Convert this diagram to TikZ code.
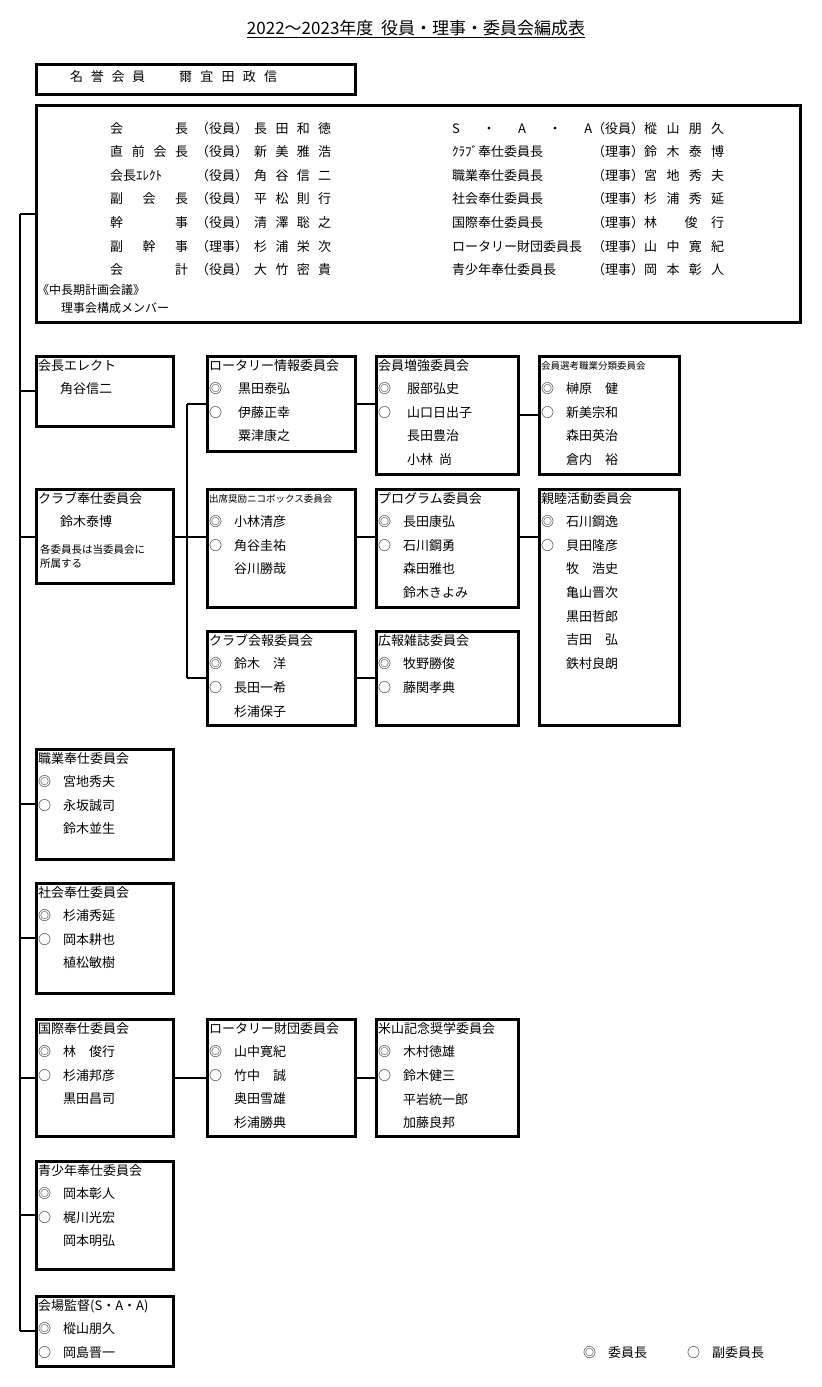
\documentclass[tikz,border=0pt]{standalone}
\usepackage{fontspec}
\setmainfont{Noto Sans CJK JP}
\usetikzlibrary{positioning,calc}
\tikzset{
	box/.style={
		draw=black,
		line width=2.6pt,
		anchor=north west,
		inner sep=0pt,
	},
	boxtext/.style={
		anchor=north west,
		align=left,
		inner sep=0pt,
		font=\fontsize{13pt}{23.6pt}\selectfont,
	},
	rowtext/.style={
		anchor=west,
		inner sep=0pt,
		font=\fontsize{13pt}{15pt}\selectfont,
	},
	link/.style={
		line width=1.8pt,
	},
}
\newcommand\spread[2]{\makebox[#1pt][l]{#2}}

\begin{document}
\begin{tikzpicture}[x=1pt,y=-1pt]
		\useasboundingbox (0,0) rectangle (822,1387);
		% title
		\node[font=\fontsize{17pt}{19pt}\selectfont,inner sep=1pt] (title) at (416,29) {\underline{2022～2023年度\ \ 役員・理事・委員会編成表}};
		
		\node[box,minimum width=319,minimum height=30] (honor) at (35,63) {};
		\node[rowtext] (honortext) at (70,77) {\spread{75}{名\hfill 誉\hfill 会\hfill 員}\hspace{34pt}\spread{98}{爾\hfill 宜\hfill 田\hfill 政\hfill 信}};
		
		\node[box,line width=3.4pt,minimum width=764,minimum height=217] (board) at (35,104) {};
		\foreach \lab/\role/\who [count=\i] in {
			{会\hfill 長}/役員/{長\hfill 田\hfill 和\hfill 徳},
			{直\hfill 前\hfill 会\hfill 長}/役員/{新\hfill 美\hfill 雅\hfill 浩},
			{会長ｴﾚｸﾄ}/役員/{角\hfill 谷\hfill 信\hfill 二},
			{副\hfill 会\hfill 長}/役員/{平\hfill 松\hfill 則\hfill 行},
			{幹\hfill 事}/役員/{清\hfill 澤\hfill 聡\hfill 之},
			{副\hfill 幹\hfill 事}/理事/{杉\hfill 浦\hfill 栄\hfill 次},
			{会\hfill 計}/役員/{大\hfill 竹\hfill 密\hfill 貴}}
			\node[rowtext] (left\i) at (110,{104.5+23.6*\i}) {\spread{78}{\lab}\hspace{8pt}（\role）\hspace{6pt}\spread{77}{\who}};
		\foreach \lab/\role/\who [count=\i] in {
			{S\hfill ・\hfill A\hfill ・\hfill A}/役員/{樅\hfill 山\hfill 朋\hfill 久},
			{ｸﾗﾌﾞ奉仕委員長}/理事/{鈴\hfill 木\hfill 泰\hfill 博},
			{職業奉仕委員長}/理事/{宮\hfill 地\hfill 秀\hfill 夫},
			{社会奉仕委員長}/理事/{杉\hfill 浦\hfill 秀\hfill 延},
			{国際奉仕委員長}/理事/{林\hfill\hfill 俊\hfill 行},
			{ロータリー財団委員長}/理事/{山\hfill 中\hfill 寛\hfill 紀},
			{青少年奉仕委員長}/理事/{岡\hfill 本\hfill 彰\hfill 人}}
			\node[rowtext] (right\i) at (452,{104.5+23.6*\i}) {\spread{140}{\lab}（\role）\spread{80}{\who}};
		\node[boxtext,font=\fontsize{12pt}{18pt}\selectfont] (plan) at (37,284) {《中長期計画会議》\\\hspace{24pt}理事会構成メンバー};
		
		% first column
		\node[box,minimum width=137,minimum height=70] (elect) at (35,355) {};
		\node[boxtext] at ($(elect.north west)+(3,4)$) {会長エレクト\\\hspace{22pt}角谷信二};
		\node[box,line width=3.2pt,minimum width=137,minimum height=94] (club) at (35,488) {};
		\node[boxtext] at ($(club.north west)+(3,4)$) {クラブ奉仕委員会\\\hspace{22pt}鈴木泰博};
		\node[boxtext,font=\fontsize{10.5pt}{14pt}\selectfont] at ($(club.north west)+(5,56)$) {各委員長は当委員会に\\所属する};
		\node[box,minimum width=137,minimum height=110] (job) at (35,748) {};
		\node[boxtext] at ($(job.north west)+(3,4)$) {職業奉仕委員会\\◎\hspace{12pt}宮地秀夫\\○\hspace{12pt}永坂誠司\\\hspace{25pt}鈴木並生};
		\node[box,minimum width=137,minimum height=110] (social) at (35,882) {};
		\node[boxtext] at ($(social.north west)+(3,4)$) {社会奉仕委員会\\◎\hspace{12pt}杉浦秀延\\○\hspace{12pt}岡本耕也\\\hspace{25pt}植松敏樹};
		\node[box,minimum width=137,minimum height=117] (intl) at (35,1018) {};
		\node[boxtext] at ($(intl.north west)+(3,4)$) {国際奉仕委員会\\◎\hspace{12pt}林\hspace{13pt}俊行\\○\hspace{12pt}杉浦邦彦\\\hspace{25pt}黒田昌司};
		\node[box,minimum width=137,minimum height=108] (youth) at (35,1160) {};
		\node[boxtext] at ($(youth.north west)+(3,4)$) {青少年奉仕委員会\\◎\hspace{12pt}岡本彰人\\○\hspace{12pt}梶川光宏\\\hspace{25pt}岡本明弘};
		\node[box,minimum width=137,minimum height=70] (saa) at (35,1295) {};
		\node[boxtext] at ($(saa.north west)+(3,4)$) {会場監督(S・A・A)\\◎\hspace{12pt}樅山朋久\\○\hspace{12pt}岡島晋一};
		
		% second column
		\node[box,minimum width=148,minimum height=95] (info) at (206,355) {};
		\node[boxtext] at ($(info.north west)+(3,4)$) {ロータリー情報委員会\\◎\hspace{16pt}黒田泰弘\\○\hspace{16pt}伊藤正幸\\\hspace{29pt}粟津康之};
		\node[box,minimum width=148,minimum height=118] (attend) at (206,488) {};
		\node[boxtext,font=\fontsize{9.5pt}{10pt}\selectfont] at ($(attend.north west)+(3,6)$) {出席奨励ニコボックス委員会};
		\node[boxtext] at ($(attend.north west)+(3,27.6)$) {◎\hspace{12pt}小林清彦\\○\hspace{12pt}角谷圭祐\\\hspace{25pt}谷川勝哉};
		\node[box,minimum width=148,minimum height=94] (news) at (206,630) {};
		\node[boxtext] at ($(news.north west)+(3,4)$) {クラブ会報委員会\\◎\hspace{12pt}鈴木\hspace{13pt}洋\\○\hspace{12pt}長田一希\\\hspace{25pt}杉浦保子};
		\node[box,minimum width=148,minimum height=117] (found) at (206,1018) {};
		\node[boxtext] at ($(found.north west)+(3,4)$) {ロータリー財団委員会\\◎\hspace{12pt}山中寛紀\\○\hspace{12pt}竹中\hspace{13pt}誠\\\hspace{25pt}奥田雪雄\\\hspace{25pt}杉浦勝典};
		
		% third column
		\node[box,minimum width=142,minimum height=118] (member) at (375,355) {};
		\node[boxtext] at ($(member.north west)+(3,4)$) {会員増強委員会\\◎\hspace{16pt}服部弘史\\○\hspace{16pt}山口日出子\\\hspace{29pt}長田豊治\\\hspace{29pt}小林\hspace{6pt}尚};
		\node[box,minimum width=142,minimum height=118] (program) at (375,488) {};
		\node[boxtext] at ($(program.north west)+(3,4)$) {プログラム委員会\\◎\hspace{12pt}長田康弘\\○\hspace{12pt}石川鋼勇\\\hspace{25pt}森田雅也\\\hspace{25pt}鈴木きよみ};
		\node[box,minimum width=142,minimum height=94] (press) at (375,630) {};
		\node[boxtext] at ($(press.north west)+(3,4)$) {広報雑誌委員会\\◎\hspace{12pt}牧野勝俊\\○\hspace{12pt}藤関孝典};
		\node[box,minimum width=142,minimum height=117] (yone) at (375,1018) {};
		\node[boxtext] at ($(yone.north west)+(3,4)$) {米山記念奨学委員会\\◎\hspace{12pt}木村徳雄\\○\hspace{12pt}鈴木健三\\\hspace{25pt}平岩統一郎\\\hspace{25pt}加藤良邦};
		
		% fourth column
		\node[box,minimum width=140,minimum height=118] (select) at (538,355) {};
		\node[boxtext,font=\fontsize{9.5pt}{10pt}\selectfont] at ($(select.north west)+(3,6)$) {会員選考職業分類委員会};
		\node[boxtext] at ($(select.north west)+(3,27.6)$) {◎\hspace{12pt}榊原\hspace{13pt}健\\○\hspace{12pt}新美宗和\\\hspace{25pt}森田英治\\\hspace{25pt}倉内\hspace{13pt}裕};
		\node[box,minimum width=140,minimum height=236] (social2) at (538,488) {};
		\node[boxtext] at ($(social2.north west)+(3,4)$) {親睦活動委員会\\◎\hspace{12pt}石川鋼逸\\○\hspace{12pt}貝田隆彦\\\hspace{25pt}牧\hspace{13pt}浩史\\\hspace{25pt}亀山晋次\\\hspace{25pt}黒田哲郎\\\hspace{25pt}吉田\hspace{13pt}弘\\\hspace{25pt}鉄村良朗};
		
		% legend
		\node[rowtext] (legend) at (583,1353) {◎\hspace{12pt}委員長\hspace{40pt}○\hspace{12pt}副委員長};
		
		% connectors
		\coordinate (trunk) at (20,0);
		\coordinate (fork) at (187,0);
		\draw[link] (trunk |- board.west) -- (board.west);
		\draw[link] (trunk |- board.west) -- (trunk |- saa.west);
		\foreach \n in {elect,club,job,social,intl,youth,saa}
			\draw[link] (trunk |- \n.west) -- (\n.west);
		\draw[link] (fork |- info.west) -- (fork |- news.west);
		\draw[link] (club.east) -- (club.east -| attend.west);
		\draw[link] (fork |- info.west) -- (info.west);
		\draw[link] (fork |- news.west) -- (news.west);
		\draw[link] (info.east) -- (info.east -| member.west);
		\draw[link] (member.east) -- (member.east -| select.west);
		\draw[link] (club.east -| attend.east) -- (club.east -| program.west);
		\draw[link] (club.east -| program.east) -- (club.east -| social2.west);
		\draw[link] (news.east) -- (news.east -| press.west);
		\draw[link] (found.east) -- (found.east -| yone.west);
		\draw[link] (intl.east) -- (found.west);
	\end{tikzpicture}
\end{document}
